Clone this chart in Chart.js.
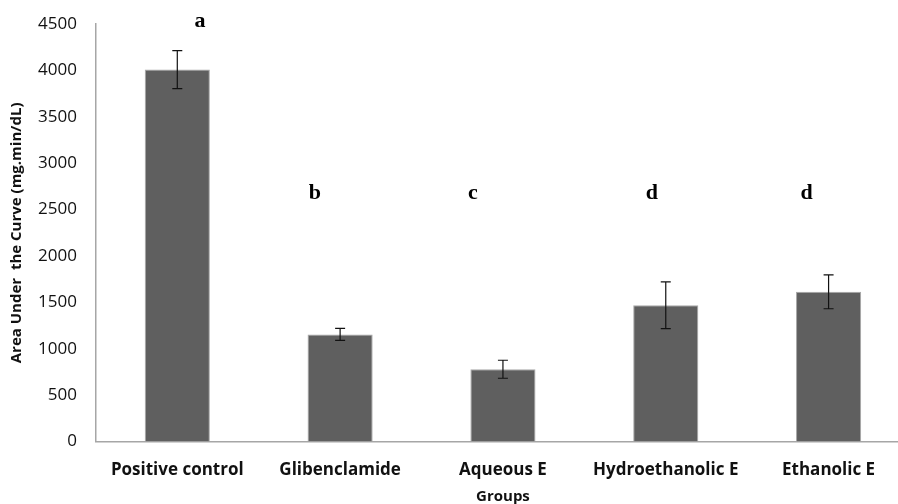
<!DOCTYPE html>
<html>
<head>
<meta charset="utf-8">
<script src="https://cdn.jsdelivr.net/npm/chart.js@4.4.1/dist/chart.umd.min.js"></script>
<style>
html,body{margin:0;padding:0;background:#fff;overflow:hidden;width:898px;height:504px;}
#wrap{width:912px;height:504px;}
</style>
</head>
<body>
<div id="wrap"><canvas id="c" width="912" height="504"></canvas></div>
<script>
const categories = ["Positive control", "Glibenclamide", "Aqueous E", "Hydroethanolic E", "Ethanolic E"];
const aucMeans = [4010, 1155, 780, 1470, 1615];
const aucErrors = [205, 65, 97, 252, 183];
const letters = ["a", "b", "c", "d", "d"];
const letterValues = [4525, 2675, 2675, 2675, 2675];
const letterOffsets = [0.14, -0.155, -0.185, -0.085, -0.135];
const yTicks = [0, 500, 1000, 1500, 2000, 2500, 3000, 3500, 4000, 4500];

const extras = {
  id: 'extras',
  afterDatasetsDraw(chart) {
    const ctx = chart.ctx;
    const xs = chart.scales.x, ys = chart.scales.y;
    ctx.save();
    ctx.strokeStyle = '#111';
    ctx.lineWidth = 1.2;
    aucMeans.forEach((v, i) => {
      const x = xs.getPixelForValue(i);
      const yt = ys.getPixelForValue(v + aucErrors[i]);
      const yb = ys.getPixelForValue(v - aucErrors[i]);
      ctx.beginPath();
      ctx.moveTo(x, yt); ctx.lineTo(x, yb);
      ctx.moveTo(x - 5, yt); ctx.lineTo(x + 5, yt);
      ctx.moveTo(x - 5, yb); ctx.lineTo(x + 5, yb);
      ctx.stroke();
    });
    ctx.fillStyle = '#000';
    ctx.font = 'bold 22px "Liberation Serif", "DejaVu Serif", serif';
    ctx.textAlign = 'center';
    ctx.textBaseline = 'middle';
    letters.forEach((t, i) => {
      const x = xs.getPixelForValue(i + letterOffsets[i]);
      const y = ys.getPixelForValue(letterValues[i]);
      ctx.fillText(t, x, y);
    });
    ctx.restore();
  }
};

new Chart(document.getElementById('c'), {
  type: 'bar',
  data: {
    labels: categories,
    datasets: [{
      data: aucMeans,
      backgroundColor: '#5f5f5f',
      borderColor: '#a8a8a8',
      borderWidth: 1,
      barPercentage: 0.4,
      categoryPercentage: 1.0
    }]
  },
  options: {
    responsive: false,
    animation: false,
    events: [],
    layout: { padding: { top: 8, right: 2, left: 8, bottom: -2 } },
    plugins: { legend: { display: false }, tooltip: { enabled: false } },
    scales: {
      x: {
        grid: { display: false, drawTicks: false },
        border: { color: '#a6a6a6', width: 1.5 },
        ticks: { color: '#111', padding: 18, maxRotation: 0, autoSkip: false,
                 font: { family: '"Open Sans", sans-serif', size: 17, weight: 'bold' } },
        title: { display: true, text: 'Groups', color: '#111', padding: { top: -10, bottom: 0 },
                 font: { family: '"Open Sans", sans-serif', size: 15, weight: 'bold' } }
      },
      y: {
        min: 0, max: 4500,
        afterBuildTicks(scale) { scale.ticks = yTicks.map(v => ({ value: v })); },
        grid: { display: false, drawTicks: false },
        border: { color: '#a6a6a6', width: 1.5 },
        ticks: { color: '#111', padding: 19,
                 callback: (v) => String(v),
                 font: { family: '"Open Sans", sans-serif', size: 17, lineHeight: 0.6 } },
        title: { display: true, text: 'Area Under  the Curve (mg.min/dL)', color: '#111',
                 padding: { top: 0, bottom: -7 },
                 font: { family: '"Open Sans", sans-serif', size: 15, weight: 'bold' } }
      }
    }
  },
  plugins: [extras]
});
</script>
</body>
</html>
